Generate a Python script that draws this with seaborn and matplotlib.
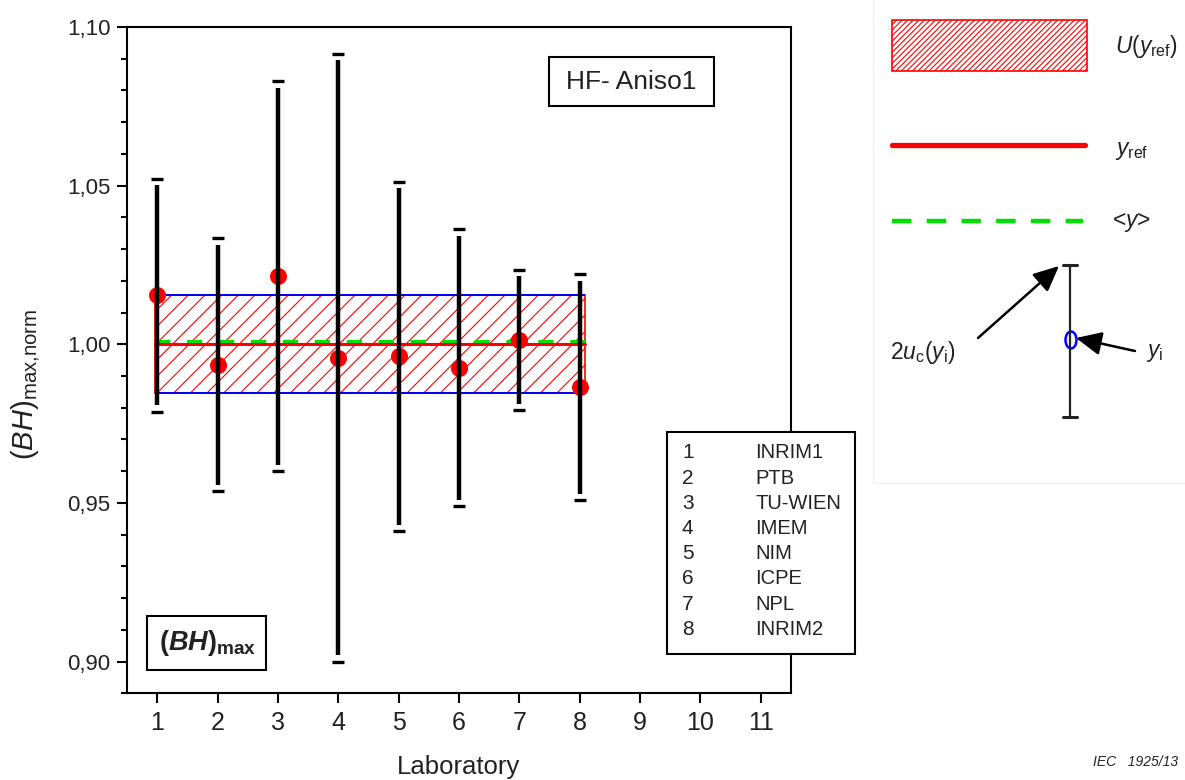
"""
Interlaboratory comparison plot — (BH)max normalised, HF-Aniso1
"""

import numpy as np
import matplotlib.pyplot as plt
import matplotlib.ticker as ticker
from matplotlib.patches import Rectangle, Ellipse
import seaborn as sns

# ── Data ───────────────────────────────────────────────────────────────────────

LABS       = [1, 2, 3, 4, 5, 6, 7, 8]
LAB_NAMES  = ["INRIM1", "PTB", "TU-WIEN", "IMEM", "NIM", "ICPE", "NPL", "INRIM2"]
Y_NORM     = [1.0155, 0.9936, 1.0215, 0.9958, 0.9962, 0.9926, 1.0013, 0.9865]
U_2C       = [0.0367, 0.0398, 0.0614, 0.0958, 0.0550, 0.0436, 0.0221, 0.0356]
Y_REF      = 1.000
U_REF      = 0.0155
Y_MEAN     = 1.0006
X_TICKS    = list(range(1, 12))
Y_TICKS    = [0.90, 0.95, 1.00, 1.05, 1.10]

# ── Style ──────────────────────────────────────────────────────────────────────

W, H       = 1185, 780
FONT       = "Liberation Sans"
TXT        = "#222222"
BAND_X     = (0.97, 8.09)
CAP_GAP    = 0.002

sns.set_theme(style="ticks")
plt.rcParams["font.family"] = [FONT, "DejaVu Sans"]
plt.rcParams["mathtext.fontset"] = "custom"
plt.rcParams["mathtext.rm"] = FONT
plt.rcParams["mathtext.it"] = FONT + ":italic"
plt.rcParams["mathtext.bf"] = FONT + ":bold"
plt.rcParams["mathtext.bfit"] = FONT + ":italic:bold"
plt.rcParams["hatch.linewidth"] = 0.8
plt.rcParams["lines.scale_dashes"] = False

fig = plt.figure(figsize=(W / 100, H / 100), dpi=100, facecolor="white")
ax = fig.add_axes([127 / W, 1 - 693.3 / H, 664 / W, 666.3 / H])
ax.set_facecolor("white")

# ── Uncertainty band and reference lines ───────────────────────────────────────

ax.add_patch(Rectangle((BAND_X[0], Y_REF - U_REF), BAND_X[1] - BAND_X[0], 2 * U_REF,
                       facecolor="none", edgecolor="red", hatch="//",
                       linewidth=1.2, zorder=1))
ax.hlines([Y_REF - U_REF, Y_REF + U_REF], *BAND_X, color="blue", linewidth=1.4, zorder=2)
ax.plot(BAND_X, [Y_MEAN, Y_MEAN], color="#00e000", linewidth=3.0,
        dashes=(11, 12), zorder=3)
ax.plot(BAND_X, [Y_REF, Y_REF], color="red", linewidth=2.2, zorder=4)

# ── Points and error bars ──────────────────────────────────────────────────────

sns.scatterplot(x=LABS, y=Y_NORM, color="red", s=150, edgecolor="red",
                linewidth=0, ax=ax, zorder=5)
y = np.array(Y_NORM)
u = np.array(U_2C)
ax.vlines(LABS, y - u + CAP_GAP, y + u - CAP_GAP, color="black", linewidth=3.2, zorder=6)
for ends in (y - u, y + u):
    ax.plot(LABS, ends, linestyle="none", marker="_", markersize=9,
            markeredgewidth=2.4, color="black", zorder=6)

# ── Axes ───────────────────────────────────────────────────────────────────────

ax.set_xlim(0.5, 11.5)
ax.set_ylim(0.89, 1.10)
ax.set_xticks(X_TICKS)
ax.set_yticks(Y_TICKS)
ax.yaxis.set_minor_locator(ticker.MultipleLocator(0.01))
ax.yaxis.set_major_formatter(ticker.FuncFormatter(lambda v, _: f"{v:.2f}".replace(".", ",")))
ax.tick_params(axis="x", direction="out", length=7, width=1.5, pad=6,
               labelsize=18, labelcolor=TXT, color="black")
ax.tick_params(axis="y", which="major", direction="out", length=7, width=1.5, pad=5,
               labelsize=16, labelcolor=TXT, color="black")
ax.tick_params(axis="y", which="minor", direction="out", length=4, width=1.5, color="black")
for sp in ax.spines.values():
    sp.set_visible(True)
    sp.set_color("black")
    sp.set_linewidth(1.5)

ax.set_xlabel("Laboratory", fontsize=18.5, color=TXT, labelpad=14)
ax.set_ylabel(r"$(BH)_{\mathrm{max{,}norm}}$", fontsize=21, color=TXT)
ax.yaxis.set_label_coords(-0.128, 0.464)

# ── Overlay (annotation boxes and key), pixel coordinates ──────────────────────

kax = fig.add_axes([0, 0, 1, 1], zorder=10)
kax.set_xlim(0, W)
kax.set_ylim(H, 0)
kax.axis("off")

# HF- Aniso1 box
kax.add_patch(Rectangle((549, 57), 165, 49, facecolor="white", edgecolor="black", linewidth=1.5))
kax.text(631.5, 82, "HF- Aniso1", fontsize=19, color=TXT, ha="center", va="center")

# (BH)max box
kax.add_patch(Rectangle((147, 616), 119, 54, facecolor="white", edgecolor="black", linewidth=1.5))
kax.text(208, 643, r"$\mathbf{(}\mathbfit{BH}\mathbf{)_{max}}$", fontsize=19.5,
         color=TXT, ha="center", va="center")

# laboratory list
kax.add_patch(Rectangle((667, 432), 188, 222, facecolor="white", edgecolor="black", linewidth=1.5))
for i, (lab, name) in enumerate(zip(LABS, LAB_NAMES)):
    yy = 453 + i * 25.2
    kax.text(682, yy, str(lab), fontsize=15, color=TXT, va="center", ha="left")
    kax.text(755, yy, name, fontsize=14.5, color=TXT, va="center", ha="left")

# key panel frame
kax.plot([873, 873, W], [0, 483, 483], color="#f0f0f0", linewidth=1)

kax.add_patch(Rectangle((892, 20), 195, 51, facecolor="none", edgecolor="red",
                        hatch="//////", linewidth=1.2))
kax.text(1115, 47, r"$U(y_{\mathrm{ref}})$", fontsize=16.5, color=TXT, va="center")

kax.plot([892, 1085], [145, 145], color="red", linewidth=3.8)
kax.text(1115, 150, r"$y_{\mathrm{ref}}$", fontsize=16.5, color=TXT, va="center")

kax.plot([892, 1083], [221, 221], color="#00e000", linewidth=3.2, dashes=(14, 11))
kax.text(1112, 222, r"<$y$>", fontsize=16.5, color=TXT, va="center")

kax.plot([1070, 1070], [265, 417], color="#222222", linewidth=1.6)
kax.plot([1063, 1077], [265, 265], color="#222222", linewidth=2.2)
kax.plot([1063, 1077], [417, 417], color="#222222", linewidth=2.2)
kax.add_patch(Ellipse((1071, 340), 11, 17, facecolor="white", edgecolor="blue", linewidth=1.8))
kax.annotate("", xy=(1059, 266), xytext=(978, 338),
             arrowprops=dict(arrowstyle="-|>,head_length=1.3,head_width=0.6",
                             color="black", linewidth=1.8, shrinkA=0, shrinkB=0))
kax.annotate("", xy=(1076, 338), xytext=(1135, 351),
             arrowprops=dict(arrowstyle="-|>,head_length=1.3,head_width=0.6",
                             color="black", linewidth=1.8, shrinkA=0, shrinkB=0))
kax.text(890, 353, r"2$u_{\mathrm{c}}$($y_{\mathrm{i}}$)", fontsize=16.5, color=TXT, va="center")
kax.text(1146, 353, r"$y_{\mathrm{i}}$", fontsize=16.5, color=TXT, va="center")

kax.text(1178, 762, "IEC   1925/13", fontsize=10, style="italic", color=TXT,
         ha="right", va="center")

plt.savefig("out.png", dpi=100, facecolor="white")
